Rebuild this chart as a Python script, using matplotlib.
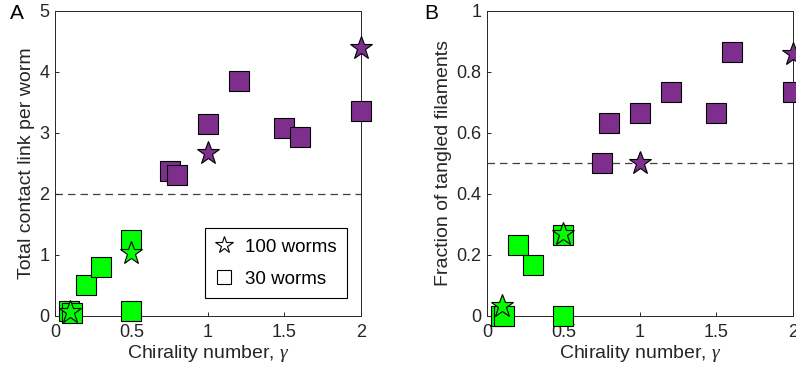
import numpy as np
import matplotlib.pyplot as plt
from matplotlib.lines import Line2D

plt.rcParams['font.family'] = ['Liberation Sans', 'DejaVu Sans']
plt.rcParams['mathtext.fontset'] = 'custom'
plt.rcParams['mathtext.it'] = 'Liberation Serif:italic'
plt.rcParams['mathtext.rm'] = 'Liberation Sans'

verde = '#00ff00'
mov = '#7e2f8e'
gri = '#262626'

# A: legaturi de contact per vierme (30 viermi = patrate, 100 viermi = stele)
a_sq_x = [0.09, 0.11, 0.2, 0.3, 0.5, 0.5, 0.75, 0.8, 1.0, 1.2, 1.5, 1.6, 2.0]
a_sq_y = [0.08, 0.05, 0.5, 0.8, 1.25, 0.08, 2.38, 2.31, 3.14, 3.85, 3.09, 2.94, 3.36]
a_st_x = [0.1, 0.5, 1.0, 2.0]
a_st_y = [0.07, 1.03, 2.67, 4.4]

# B: fractia de filamente incurcate
b_sq_x = [0.09, 0.11, 0.2, 0.3, 0.5, 0.5, 0.75, 0.8, 1.0, 1.2, 1.5, 1.6, 2.0]
b_sq_y = [0.0, 0.0, 0.233, 0.167, 0.267, 0.0, 0.5, 0.633, 0.667, 0.733, 0.667, 0.867, 0.733]
b_st_x = [0.1, 0.5, 1.0, 2.0]
b_st_y = [0.033, 0.27, 0.5, 0.86]

prag = 0.5  # gamma de la care culoarea devine mov


def culori(xs):
    return [verde if x < prag + 0.1 else mov for x in xs]


fig = plt.figure(figsize=(7.96, 3.74), dpi=100)
axA = fig.add_axes([0.0691, 0.1551, 0.3844, 0.8155])
axB = fig.add_axes([0.6118, 0.1551, 0.3844, 0.8155])


def deseneaza(ax, sx, sy, tx, ty, prag_y, ymax, yticks, ylabel):
    ax.axhline(prag_y, color='#404040', lw=0.9, dashes=(6, 4), zorder=1)
    for x, y, c in zip(sx, sy, culori(sx)):
        ax.plot(x, y, 's', ms=14.5, mfc=c, mec='black', mew=0.8,
                clip_on=False, zorder=3)
    for x, y, c in zip(tx, ty, culori(tx)):
        ax.plot(x, y, '*', ms=17, mfc=c, mec='black', mew=0.8,
                clip_on=False, zorder=4)
    ax.set_xlim(0, 2)
    ax.set_ylim(0, ymax)
    ax.set_xticks([0, 0.5, 1, 1.5, 2])
    ax.set_xticklabels(['0', '0.5', '1', '1.5', '2'])
    ax.set_yticks(yticks)
    ax.set_yticklabels([('%g' % v) for v in yticks])
    ax.tick_params(direction='in', length=3, width=0.7, colors=gri,
                   labelsize=13, labelcolor=gri)
    ax.tick_params(axis='x', pad=6)
    ax.tick_params(axis='y', pad=4)
    for s in ax.spines.values():
        s.set_color(gri)
        s.set_linewidth(0.7)
    ax.set_xlabel(r'Chirality number, $\gamma$', fontsize=14, color=gri, labelpad=1)
    ax.set_ylabel(ylabel, fontsize=14, color=gri, labelpad=3)


deseneaza(axA, a_sq_x, a_sq_y, a_st_x, a_st_y, 2, 5, [0, 1, 2, 3, 4, 5],
          'Total contact link per worm')
deseneaza(axB, b_sq_x, b_sq_y, b_st_x, b_st_y, 0.5, 1, [0, 0.2, 0.4, 0.6, 0.8, 1],
          'Fraction of tangled filaments')

leg_h = [Line2D([], [], ls='none', marker='*', ms=13, mfc='white', mec='black', mew=0.8),
         Line2D([], [], ls='none', marker='s', ms=10.5, mfc='white', mec='black', mew=0.8)]
leg = axA.legend(leg_h, ['100 worms', '30 worms'], loc='lower right',
                 bbox_to_anchor=(0.954, 0.059), borderaxespad=0, fontsize=13.5,
                 fancybox=False, edgecolor='black', framealpha=1,
                 handlelength=1.0, handletextpad=0.6, labelspacing=0.8,
                 borderpad=0.55)
leg.get_frame().set_linewidth(0.8)
for t in leg.get_texts():
    t.set_color('black')

fig.text(0.013, 0.99, 'A', fontsize=15, va='top', ha='left')
fig.text(0.533, 0.99, 'B', fontsize=15, va='top', ha='left')

plt.savefig('out.png', dpi=100)
